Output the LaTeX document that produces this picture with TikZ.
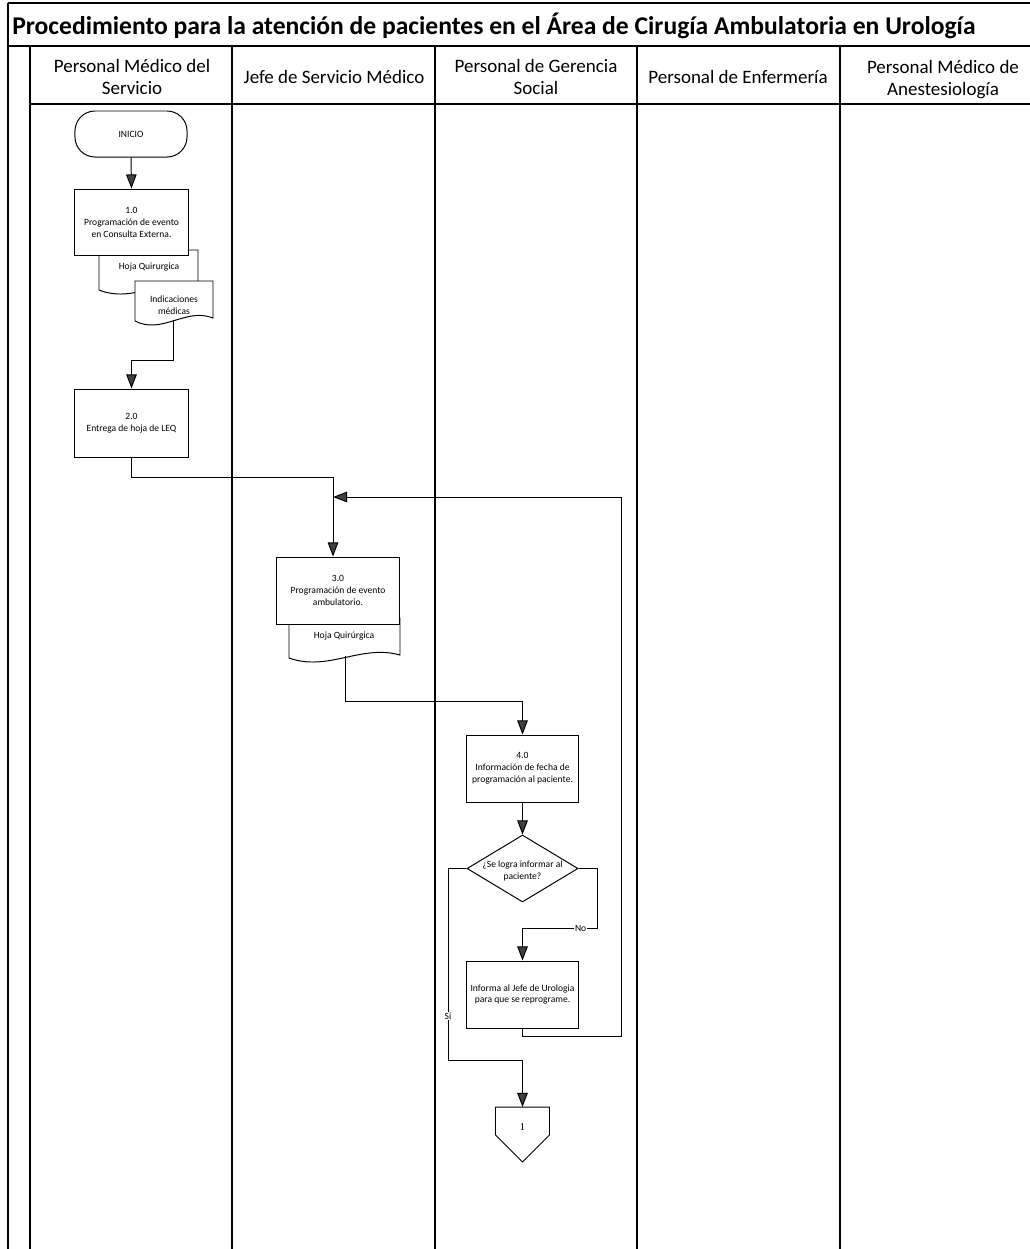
\documentclass[tikz,border=0pt]{standalone}
\usepackage{fontspec}
\setmainfont{Carlito}
\newfontfamily\serifone{Liberation Serif}
\usetikzlibrary{arrows.meta,shapes.geometric,calc}
\begin{document}
\begin{tikzpicture}[x=0.025cm,y=-0.025cm,
  frame/.style={draw=black, line width=0.75pt},
  line/.style={draw=black, line width=0.7pt},
  arr/.style={line, -{Triangle[length=10pt,width=7.5pt,fill=black!75]}},
  small/.style={font=\fontsize{6.8}{8.5}\selectfont},
  proc/.style={draw=black, line width=0.7pt, fill=white, align=center, inner sep=0pt, small},
  term/.style={proc, rounded corners=0.5cm},
  doctext/.style={align=center, inner sep=0pt, small},
  hdr/.style={align=center, inner sep=0pt, font=\fontsize{13.5}{15.6}\selectfont},
  lbl/.style={fill=white, inner sep=0.8pt, small},
  decis/.style={diamond, draw=black, line width=0.7pt, fill=white, inner sep=0pt}
]
\useasboundingbox (0,0) rectangle (1030,1249);
\fill[white] (0,0) rectangle (1030,1249);

% frame and swimlanes
\draw[frame] (8,3) -- (1030,3);
\draw[frame] (8,3) -- (8,1249);
\draw[frame] (8,46) -- (1030,46);
\draw[frame] (30,46) -- (30,1249);
\draw[frame] (30,104) -- (1030,104);
\foreach \x in {232,435,637,840} \draw[frame] (\x,46) -- (\x,1249);

\node[anchor=west, inner sep=0pt, font=\bfseries\fontsize{18.2}{21}\selectfont] (title) at (12,26)
  {Procedimiento para la atención de pacientes en el Área de Cirugía Ambulatoria en Urología};

\node[hdr] (h1) at (132,77) {Personal Médico del\\Servicio};
\node[hdr] (h2) at (334,76.5) {Jefe de Servicio Médico};
\node[hdr] (h3) at (536,77) {Personal de Gerencia\\Social};
\node[hdr] (h4) at (738,77) {Personal de Enfermería};
\node[hdr] (h5) at (943,80) {Personal Médico de\\Anestesiología};

% start
\node[term, minimum width=2.8cm, minimum height=1.15cm] (ini) at (131,134) {INICIO};

% documents of 1.0
\draw[line, fill=white] (99,250) -- (198,250) -- (198,287) .. controls (163,276) and (134,304) .. (99,290) -- cycle;
\node[doctext] (d1) at (149,267) {Hoja Quirurgica};
\draw[line, fill=white] (135,281) -- (213,281) -- (213,318) .. controls (186,307) and (162,335) .. (135,321) -- cycle;
\node[doctext] (d2) at (174,305) {Indicaciones\\médicas};
\coordinate (d2b) at (173,320);

\node[proc, minimum width=2.825cm, minimum height=1.65cm] (p1) at (131.5,222)
  {1.0\\Programación de evento\\en Consulta Externa.};

\node[proc, minimum width=2.825cm, minimum height=1.7cm] (p2) at (131.5,423)
  {2.0\\Entrega de hoja de LEQ};

% 3.0 and its document
\draw[line, fill=white] (289,618) -- (400,618) -- (400,655) .. controls (361,644) and (328,672) .. (289,658) -- cycle;
\node[doctext] (d3) at (344,636) {Hoja Quirúrgica};
\coordinate (d3b) at (345,656);
\node[proc, minimum width=3.05cm, minimum height=1.675cm] (p3) at (338,590.5)
  {3.0\\Programación de evento\\ambulatorio.};

\node[proc, minimum width=2.775cm, minimum height=1.675cm] (p4) at (522.5,768.5)
  {4.0\\Información de fecha de\\programación al paciente.};

\node[decis, minimum width=2.775cm, minimum height=1.675cm] (dec) at (522.5,868.5) {};
\node[doctext] (dect) at (522.5,871) {¿Se logra informar al\\paciente?};

\node[proc, minimum width=2.8cm, minimum height=1.675cm] (p5) at (522.5,994.5)
  {Informa al Jefe de Urologia\\para que se reprograme.};

% off-page connector
\draw[line, fill=white] (495.5,1107) -- (549.5,1107) -- (549.5,1135) -- (522.5,1162) -- (495.5,1135) -- cycle;
\node[inner sep=0pt, font=\serifone\fontsize{7.5}{9}\selectfont] (c1) at (522.5,1127) {1};
\coordinate (ctop) at (522.5,1107);

\coordinate (j3) at (333,497);

% connectors
\draw[arr] (ini.south) -- (p1.north);
\draw[arr] (d2b) -- (173,360) -| (p2.north);
\draw[arr] (p2.south) |- (333,477) -- ($(p3.north)+(-5,0)$);
\draw[arr] (d3b) |- (522.5,701) -- (p4.north);
\draw[arr] (p4.south) -- (dec.north);
\draw[arr] (dec.east) -| (597,928) -- node[lbl, pos=0.22] {No} (522.5,928) -- (p5.north);
\draw[arr] (dec.west) -- (448,868.5) -- node[lbl, pos=0.77] {Si} (448,1060) -- (522.5,1060) -- (ctop);
\draw[arr] (p5.south) -- (522.5,1036) -- (621,1036) -- (621,497) -- (j3);
\end{tikzpicture}
\end{document}
